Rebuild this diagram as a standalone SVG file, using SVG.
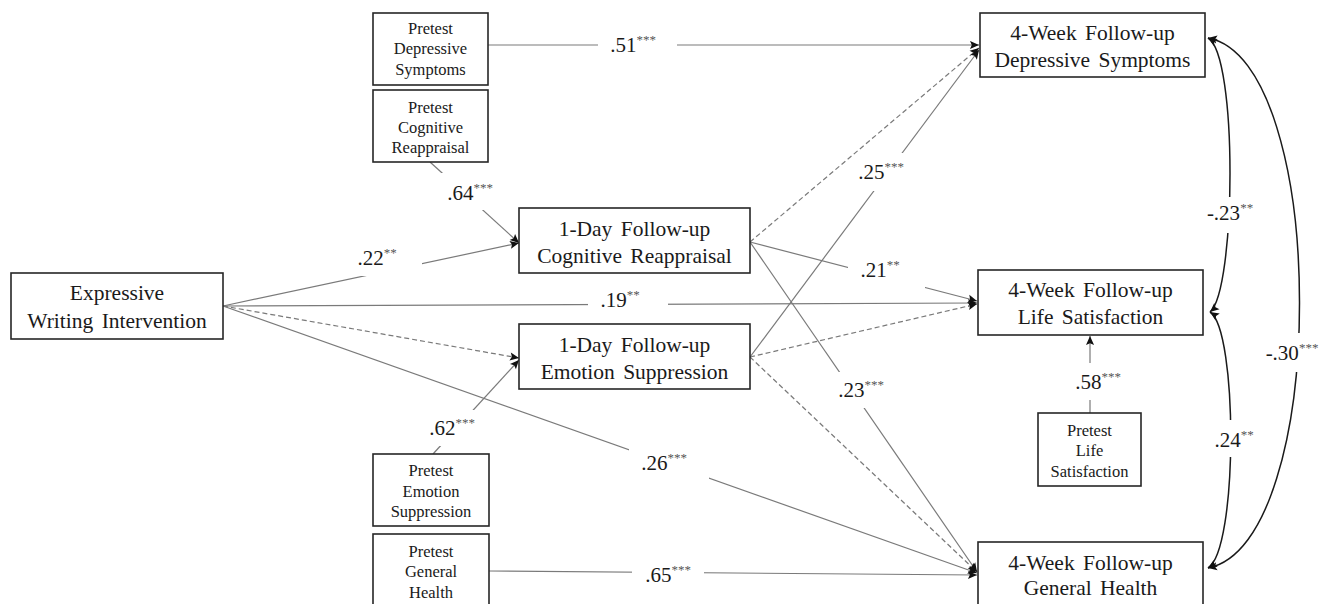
<svg xmlns="http://www.w3.org/2000/svg" width="1335" height="604" viewBox="0 0 1335 604">
<defs>
<style>
.box{fill:#fff;stroke:#262626;stroke-width:1.6}
.big{font-family:"Liberation Serif","Times New Roman",serif;font-size:21.5px;fill:#1a1a1a;text-anchor:middle;word-spacing:3px}
.small{font-family:"Liberation Serif","Times New Roman",serif;font-size:16.5px;fill:#1a1a1a;text-anchor:middle}
.lab{font-family:"Liberation Serif","Times New Roman",serif;font-size:21px;fill:#1a1a1a;text-anchor:middle}
.sup{font-size:13px;fill:#555}
.ln{fill:none;stroke:#7a7a7a;stroke-width:1.2;marker-end:url(#ah)}
.dash{stroke-dasharray:5 3}
.cv{fill:none;stroke:#1a1a1a;stroke-width:1.5;marker-start:url(#ah2);marker-end:url(#ah2)}
.bg{fill:#fff}
</style>
<marker id="ah" viewBox="0 0 10 10" refX="10" refY="5" markerWidth="10" markerHeight="9" markerUnits="userSpaceOnUse" orient="auto">
<path d="M0,0.5 L10,5 L0,9.5 L2,5 z" fill="#111"/>
</marker>
<marker id="ah2" viewBox="0 0 10 10" refX="10" refY="5" markerWidth="10" markerHeight="9" markerUnits="userSpaceOnUse" orient="auto-start-reverse">
<path d="M0,0.5 L10,5 L0,9.5 L2,5 z" fill="#111"/>
</marker>
</defs>
<rect width="1335" height="604" fill="#fff"/>

<g id="connectors">
<path class="ln" d="M488,45 L979,45"/>
<path class="ln" d="M430,162 L519,243"/>
<path class="ln" d="M223,306 L519,243"/>
<path class="ln" d="M223,306 L977,303"/>
<path class="ln dash" d="M223,306 L519,358"/>
<path class="ln" d="M223,306 L977,573"/>
<path class="ln" d="M433,454 L519,360"/>
<path class="ln" d="M489,571 L977,575"/>
<path class="ln dash" d="M750,242 L979,48"/>
<path class="ln" d="M750,242 L977,301"/>
<path class="ln" d="M750,242 L977,572"/>
<path class="ln" d="M750,357 L979,50"/>
<path class="ln dash" d="M750,357 L977,304"/>
<path class="ln dash" d="M750,357 L977,572"/>
<path class="ln" d="M1090,413 L1090,336"/>
<path class="cv" d="M1208,38 C1238,55 1236,290 1210,312"/>
<path class="cv" d="M1210,312 C1238,330 1238,550 1208,568"/>
<path class="cv" d="M1208,38 C1330,60 1330,545 1208,568"/>
</g>

<g id="labels">
<rect class="bg" x="598" y="28" width="79" height="34"/>
<text class="lab" x="633" y="52">.51<tspan class="sup" dy="-8">***</tspan></text>
<rect class="bg" x="434" y="173" width="80" height="37"/>
<text class="lab" x="470" y="200">.64<tspan class="sup" dy="-8">***</tspan></text>
<rect class="bg" x="352" y="242" width="70" height="34"/>
<text class="lab" x="377" y="265">.22<tspan class="sup" dy="-8">**</tspan></text>
<rect class="bg" x="588" y="286" width="80" height="32"/>
<text class="lab" x="620" y="307">.19<tspan class="sup" dy="-8">**</tspan></text>
<rect class="bg" x="629" y="445" width="80" height="37"/>
<text class="lab" x="664" y="470">.26<tspan class="sup" dy="-8">***</tspan></text>
<rect class="bg" x="420" y="410" width="65" height="36"/>
<text class="lab" x="452" y="435">.62<tspan class="sup" dy="-8">***</tspan></text>
<rect class="bg" x="632" y="558" width="72" height="34"/>
<text class="lab" x="668" y="582">.65<tspan class="sup" dy="-8">***</tspan></text>
<rect class="bg" x="848" y="252" width="77" height="36"/>
<text class="lab" x="880" y="277">.21<tspan class="sup" dy="-8">**</tspan></text>
<rect class="bg" x="832" y="372" width="60" height="36"/>
<text class="lab" x="861" y="397">.23<tspan class="sup" dy="-8">***</tspan></text>
<rect class="bg" x="856" y="153" width="56" height="38"/>
<text class="lab" x="881" y="179">.25<tspan class="sup" dy="-8">***</tspan></text>
<rect class="bg" x="1064" y="363" width="84" height="37"/>
<text class="lab" x="1098" y="389">.58<tspan class="sup" dy="-8">***</tspan></text>
<rect class="bg" x="1197" y="197" width="78" height="36"/>
<text class="lab" x="1230" y="220">-.23<tspan class="sup" dy="-8">**</tspan></text>
<rect class="bg" x="1202" y="420" width="66" height="37"/>
<text class="lab" x="1234" y="447">.24<tspan class="sup" dy="-8">**</tspan></text>
<rect class="bg" x="1255" y="333" width="80" height="39"/>
<text class="lab" x="1292" y="360">-.30<tspan class="sup" dy="-8">***</tspan></text>
</g>

<g id="pretest-depressive">
<rect class="box" x="373" y="13" width="115" height="72"/>
<text class="small" x="430.5" y="34">Pretest</text>
<text class="small" x="430.5" y="54">Depressive</text>
<text class="small" x="430.5" y="75">Symptoms</text>
</g>
<g id="pretest-cognitive">
<rect class="box" x="373" y="90" width="115" height="72"/>
<text class="small" x="430.5" y="113">Pretest</text>
<text class="small" x="430.5" y="133">Cognitive</text>
<text class="small" x="430.5" y="153">Reappraisal</text>
</g>
<g id="pretest-emotion">
<rect class="box" x="373" y="454" width="116" height="72"/>
<text class="small" x="431" y="476">Pretest</text>
<text class="small" x="431" y="497">Emotion</text>
<text class="small" x="431" y="517">Suppression</text>
</g>
<g id="pretest-health">
<rect class="box" x="373" y="534" width="116" height="76"/>
<text class="small" x="431" y="557">Pretest</text>
<text class="small" x="431" y="577">General</text>
<text class="small" x="431" y="598">Health</text>
</g>
<g id="pretest-life">
<rect class="box" x="1038" y="413" width="103" height="73"/>
<text class="small" x="1089.5" y="436">Pretest</text>
<text class="small" x="1089.5" y="456">Life</text>
<text class="small" x="1089.5" y="477">Satisfaction</text>
</g>
<g id="expressive">
<rect class="box" x="11" y="273" width="212" height="66"/>
<text class="big" x="117" y="300">Expressive</text>
<text class="big" x="117" y="328">Writing Intervention</text>
</g>
<g id="day1-cognitive">
<rect class="box" x="519" y="208" width="231" height="65"/>
<text class="big" x="634.5" y="236">1-Day Follow-up</text>
<text class="big" x="634.5" y="263">Cognitive Reappraisal</text>
</g>
<g id="day1-emotion">
<rect class="box" x="519" y="324" width="231" height="65"/>
<text class="big" x="634.5" y="352">1-Day Follow-up</text>
<text class="big" x="634.5" y="379">Emotion Suppression</text>
</g>
<g id="week4-depressive">
<rect class="box" x="980" y="13" width="225" height="64"/>
<text class="big" x="1092.5" y="40">4-Week Follow-up</text>
<text class="big" x="1092.5" y="67">Depressive Symptoms</text>
</g>
<g id="week4-life">
<rect class="box" x="978" y="270" width="225" height="65"/>
<text class="big" x="1090.5" y="297">4-Week Follow-up</text>
<text class="big" x="1090.5" y="324">Life Satisfaction</text>
</g>
<g id="week4-health">
<rect class="box" x="978" y="542" width="225" height="66"/>
<text class="big" x="1090.5" y="570">4-Week Follow-up</text>
<text class="big" x="1090.5" y="595">General Health</text>
</g>
</svg>
